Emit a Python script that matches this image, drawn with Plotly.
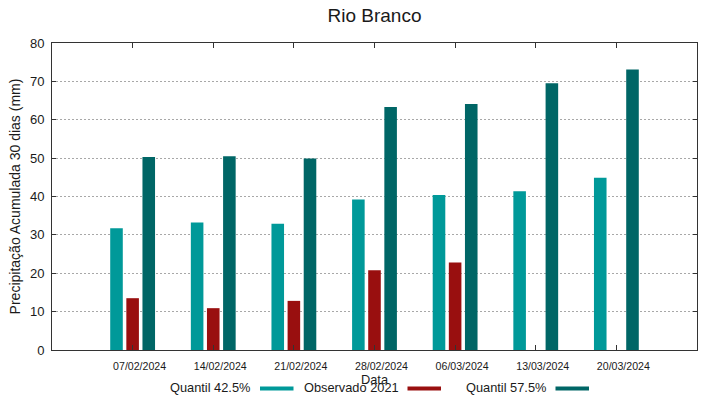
import plotly.graph_objects as go

# ---- data ----
dates = ["07/02/2024", "14/02/2024", "21/02/2024", "28/02/2024",
         "06/03/2024", "13/03/2024", "20/03/2024"]
quantil_425 = [31.7, 33.2, 32.9, 39.2, 40.4, 41.4, 44.9]
observado_2021 = [13.5, 10.9, 12.8, 20.8, 22.8, None, None]
quantil_575 = [50.3, 50.5, 49.9, 63.3, 64.1, 69.5, 73.1]
series_names = ["Quantil 42.5%", "Observado 2021", "Quantil 57.5%"]
series_colors = ["#009999", "#990f0f", "#006666"]
y_ticks = [0, 10, 20, 30, 40, 50, 60, 70, 80]

FONT = "Liberation Sans, Arial, sans-serif"
TXT = "#1a1a1a"

fig = go.Figure()
for name, vals, col in zip(series_names,
                           [quantil_425, observado_2021, quantil_575],
                           series_colors):
    fig.add_trace(go.Bar(x=dates, y=vals, name=name,
                         marker=dict(color=col, line=dict(width=0)),
                         showlegend=False))

# plot-area geometry (pixels) for the hand-made gnuplot-style legend
W, H = 719, 399
L, R, T, B = 52, 22, 43, 49
pw, ph = W - L - R, H - T - B

def px(x):
    return (x - L) / pw

def py(y):
    return (H - B - y) / ph

legend_text_right = [252.5, 400.5, 548]
legend_swatch = [(260, 293.5), (407.5, 441), (555.5, 589)]
leg_y = 388.5
for name, col, tr, (s0, s1) in zip(series_names, series_colors,
                                   legend_text_right, legend_swatch):
    fig.add_annotation(x=px(tr), y=py(leg_y - 1), xref="paper", yref="paper",
                       text=name, showarrow=False, xanchor="right",
                       yanchor="middle",
                       font=dict(family=FONT, size=12.8, color=TXT))
    fig.add_shape(type="line", xref="paper", yref="paper",
                  x0=px(s0), x1=px(s1), y0=py(leg_y), y1=py(leg_y),
                  line=dict(color=col, width=4))

fig.update_layout(
    width=W, height=H,
    margin=dict(l=L, r=R, t=T, b=B, autoexpand=False),
    paper_bgcolor="white", plot_bgcolor="white",
    barmode="group", bargap=0.4, bargroupgap=0.22,
    font=dict(family=FONT, color=TXT),
    title=dict(text="Rio Branco", x=(L + pw / 2) / W, xanchor="center",
               y=1 - 15.5 / H, yanchor="middle",
               font=dict(family=FONT, size=19, color=TXT)),
)
fig.update_xaxes(
    type="category", range=[-1, len(dates)],
    showline=True, linecolor="#333333", linewidth=1, mirror="ticks",
    ticks="inside", ticklen=5, tickcolor="#333333",
    showgrid=False, zeroline=False,
    tickfont=dict(family=FONT, size=10.6, color=TXT),
    ticklabelshift=7, ticklabelstandoff=6,
    title=dict(text="Data", standoff=0,
               font=dict(family=FONT, size=12.8, color=TXT)),
)
fig.update_yaxes(
    range=[0, 80], tickvals=y_ticks,
    showline=True, linecolor="#333333", linewidth=1, mirror="ticks",
    ticks="inside", ticklen=4, tickcolor="#333333",
    showgrid=True, gridcolor="#a8a8a8", griddash="2px,2px", gridwidth=1,
    zeroline=False,
    tickfont=dict(family=FONT, size=13, color=TXT),
    ticklabelstandoff=4,
    title=dict(text="Precipitação Acumulada 30 dias (mm)", standoff=6,
               font=dict(family=FONT, size=14, color=TXT)),
)

fig.write_html("out.html",
               config={"displayModeBar": False},
               post_script="document.body.style.margin='0px';")
